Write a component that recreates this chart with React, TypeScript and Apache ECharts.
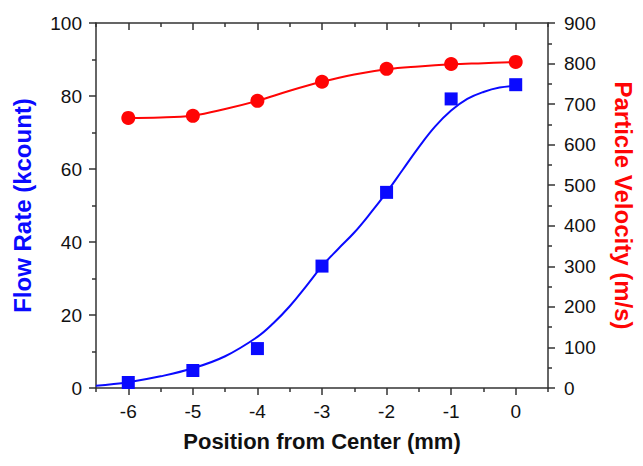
import React, { useEffect, useRef } from "react";
import * as echarts from "echarts";

// Measured points
const positions = [-6, -5, -4, -3, -2, -1, 0];
const flowRate = [1.5, 4.8, 10.8, 33.4, 53.6, 79.2, 83.1];
const velocity = [666, 671, 708, 755, 787, 799, 804];

// Fitted curves
const flowFitX = [-6.5, -6, -5.5, -5, -4.5, -4, -3.75, -3.5, -3.25, -3, -2.75, -2.5, -2.25, -2, -1.75, -1.5, -1.25, -1, -0.75, -0.5, -0.25, 0];
const flowFitY = [0.6, 1.6, 3.2, 5.4, 8.7, 14.0, 17.8, 22.4, 27.8, 33.4, 38.1, 42.6, 47.9, 53.6, 59.8, 66.0, 71.6, 76.0, 79.2, 81.1, 82.3, 82.8];
const velFitX = [-6, -5.5, -5, -4.5, -4, -3.5, -3, -2.5, -2, -1.5, -1, -0.5, 0];
const velFitY = [666, 667, 672, 688, 708, 733, 755, 773, 786, 793, 798, 801, 804];

// Tick labels
const xMajor = [-6, -5, -4, -3, -2, -1, 0];
const xMinor = [-6.5, -5.5, -4.5, -3.5, -2.5, -1.5, -0.5, 0.5];

const FONT = "'Liberation Sans', Arial, Helvetica, sans-serif";
const AXIS_COLOR = "#333";
const BLUE = "#0a0aff";
const RED = "#ff0505";

export default function App() {
  const ref = useRef<HTMLDivElement>(null);

  useEffect(() => {
    if (!ref.current) return;
    const chart = echarts.init(ref.current, undefined, { renderer: "svg" });

    const baseX = {
      type: "value" as const,
      min: -6.5,
      max: 0.5,
      splitLine: { show: false },
    };
    const line = { color: AXIS_COLOR, width: 1.5 };

    chart.setOption({
      animation: false,
      backgroundColor: "#fff",
      grid: { left: 96, right: 94, top: 23, bottom: 78, containLabel: false },
      xAxis: [
        {
          ...baseX,
          position: "bottom",
          name: "Position from Center (mm)",
          nameLocation: "middle",
          nameGap: 42,
          nameTextStyle: { fontFamily: FONT, fontSize: 22, fontWeight: "bold", color: "#111" },
          axisLine: { show: true, onZero: false, lineStyle: line },
          axisTick: { show: true, customValues: xMajor, length: 7, inside: false, lineStyle: line },
          axisLabel: { customValues: xMajor, fontFamily: FONT, fontSize: 19, color: "#111", margin: 14 },
        },
        {
          ...baseX,
          position: "bottom",
          axisLine: { show: false, onZero: false },
          axisTick: { show: true, customValues: xMinor, length: 4, inside: false, lineStyle: line },
          axisLabel: { show: false },
        },
        {
          ...baseX,
          position: "top",
          axisLine: { show: true, onZero: false, lineStyle: line },
          axisTick: { show: true, customValues: xMajor, length: 7, inside: true, lineStyle: line },
          axisLabel: { show: false },
        },
        {
          ...baseX,
          position: "top",
          axisLine: { show: false, onZero: false },
          axisTick: { show: true, customValues: xMinor, length: 4, inside: true, lineStyle: line },
          axisLabel: { show: false },
        },
      ],
      yAxis: [
        {
          type: "value",
          position: "left",
          min: 0,
          max: 100,
          interval: 20,
          name: "Flow Rate (kcount)",
          nameLocation: "middle",
          nameGap: 62,
          nameTextStyle: { fontFamily: FONT, fontSize: 24, fontWeight: "bold", color: BLUE },
          splitLine: { show: false },
          axisLine: { show: true, onZero: false, lineStyle: line },
          axisTick: { show: true, length: 7, lineStyle: line },
          minorTick: { show: true, splitNumber: 2, length: 4, lineStyle: line },
          axisLabel: { fontFamily: FONT, fontSize: 19, color: "#111", margin: 14 },
        },
        {
          type: "value",
          position: "right",
          min: 0,
          max: 900,
          interval: 100,
          name: "Particle Velocity (m/s)",
          nameLocation: "middle",
          nameGap: 63,
          nameRotate: -90,
          nameTextStyle: { fontFamily: FONT, fontSize: 24, fontWeight: "bold", color: RED },
          splitLine: { show: false },
          axisLine: { show: true, onZero: false, lineStyle: line },
          axisTick: { show: true, length: 7, lineStyle: line },
          minorTick: { show: true, splitNumber: 2, length: 4, lineStyle: line },
          axisLabel: { fontFamily: FONT, fontSize: 19, color: "#111", margin: 16 },
        },
      ],
      series: [
        {
          type: "line",
          xAxisIndex: 0,
          yAxisIndex: 0,
          data: flowFitX.map((x, i) => [x, flowFitY[i]]),
          smooth: 0.4,
          showSymbol: false,
          symbol: "none",
          lineStyle: { color: BLUE, width: 2 },
          z: 2,
        },
        {
          type: "line",
          xAxisIndex: 0,
          yAxisIndex: 1,
          data: velFitX.map((x, i) => [x, velFitY[i]]),
          smooth: 0.4,
          showSymbol: false,
          symbol: "none",
          lineStyle: { color: RED, width: 2 },
          z: 2,
        },
        {
          type: "scatter",
          xAxisIndex: 0,
          yAxisIndex: 0,
          data: positions.map((x, i) => [x, flowRate[i]]),
          symbol: "rect",
          symbolSize: 13,
          itemStyle: { color: BLUE, opacity: 1 },
          z: 3,
        },
        {
          type: "scatter",
          xAxisIndex: 0,
          yAxisIndex: 1,
          data: positions.map((x, i) => [x, velocity[i]]),
          symbol: "circle",
          symbolSize: 14,
          itemStyle: { color: RED, opacity: 1 },
          z: 3,
        },
      ],
    });

    return () => chart.dispose();
  }, []);

  return (
    <div
      ref={ref}
      style={{ width: 643, height: 466, position: "absolute", left: 0, top: 0, background: "#fff" }}
    />
  );
}
